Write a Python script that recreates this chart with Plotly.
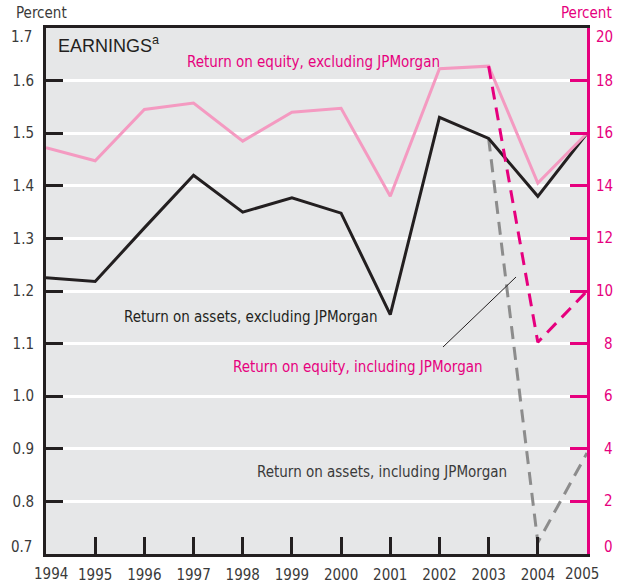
import plotly.graph_objects as go

years = list(range(1994, 2006))
roa_excl = [1.225, 1.218, 1.32, 1.42, 1.35, 1.377, 1.348, 1.155, 1.53, 1.49, 1.38, 1.50]
roe_excl = [15.45, 14.95, 16.9, 17.15, 15.7, 16.8, 16.95, 13.6, 18.45, 18.55, 14.1, 16.0]
incl_years = [2003, 2004, 2005]
roa_incl = [1.49, 0.722, 0.892]
roe_incl = [18.55, 8.05, 10.0]

left_ticks = [0.7, 0.8, 0.9, 1.0, 1.1, 1.2, 1.3, 1.4, 1.5, 1.6, 1.7]
right_ticks = [0, 2, 4, 6, 8, 10, 12, 14, 16, 18, 20]

FONT = "DejaVu Sans Condensed, Liberation Sans Narrow, Liberation Sans, sans-serif"
DARK = "#231F20"
TXT = "#3A3A3A"
MAGENTA = "#E6007E"
PINK = "#F49AC1"
GRAY = "#8C8C8C"
BG = "#E6E7E8"

fig = go.Figure()
fig.add_trace(go.Scatter(x=years, y=roe_excl, yaxis="y2", mode="lines",
                         line=dict(color=PINK, width=3), showlegend=False))
fig.add_trace(go.Scatter(x=incl_years, y=roe_incl, yaxis="y2", mode="lines",
                         line=dict(color=MAGENTA, width=3, dash="13px,8px"), showlegend=False))
fig.add_trace(go.Scatter(x=incl_years, y=roa_incl, mode="lines",
                         line=dict(color=GRAY, width=3, dash="13px,8px"), showlegend=False))
fig.add_trace(go.Scatter(x=years, y=roa_excl, mode="lines",
                         line=dict(color=DARK, width=3), showlegend=False))

# end labels nudged inward like the reference: drawn as annotations
x_text = [str(y) for y in years]
x_text_axis = ["" if i in (0, len(years) - 1) else t for i, t in enumerate(x_text)]
l_text = ["%.1f" % v for v in left_ticks]
l_text_axis = ["" if i in (0, len(left_ticks) - 1) else t for i, t in enumerate(l_text)]

fig.update_layout(
    width=626, height=586,
    margin=dict(l=46, r=39, t=28, b=32),
    paper_bgcolor="white", plot_bgcolor=BG,
    font=dict(family=FONT, size=15, color=TXT),
    xaxis=dict(range=[1994, 2005], tickmode="array", tickvals=years,
               ticktext=x_text_axis, ticks="inside", ticklen=17,
               tickwidth=3, tickcolor=DARK, showline=True, linecolor=DARK,
               linewidth=3, mirror=True, showgrid=False, zeroline=False,
               ticklabelstandoff=5, automargin=False,
               tickfont=dict(size=15, color=TXT)),
    yaxis=dict(range=[0.7, 1.7], tickmode="array", tickvals=left_ticks,
               ticktext=l_text_axis,
               ticks="inside", ticklen=17, tickwidth=3, tickcolor=DARK,
               showline=True, linecolor=DARK, linewidth=3, showgrid=True,
               gridcolor="white", gridwidth=3, zeroline=False,
               ticklabelstandoff=6, automargin=False,
               tickfont=dict(size=15, color=TXT)),
    yaxis2=dict(range=[0, 20], tickmode="array", tickvals=right_ticks,
                showticklabels=False, overlaying="y", side="right",
                ticks="inside", ticklen=17, tickwidth=3, tickcolor=MAGENTA,
                showline=True, linecolor=MAGENTA, linewidth=3, showgrid=False,
                zeroline=False, automargin=False),
)

# x end labels
fig.add_annotation(text=x_text[0], x=years[0], xref="x", y=-0.0371, yref="paper",
                   xshift=5, showarrow=False, yanchor="middle",
                   font=dict(size=15, color=TXT))
fig.add_annotation(text=x_text[-1], x=years[-1], xref="x", y=-0.0371, yref="paper",
                   xshift=-5, showarrow=False, yanchor="middle",
                   font=dict(size=15, color=TXT))
# left end labels
fig.add_annotation(text=l_text[-1], x=-0.0222, xref="paper", y=left_ticks[-1], yref="y",
                   yshift=-9, xanchor="right", showarrow=False, yanchor="middle",
                   font=dict(size=15, color=TXT))
fig.add_annotation(text=l_text[0], x=-0.0222, xref="paper", y=left_ticks[0], yref="y",
                   yshift=7, xanchor="right", showarrow=False, yanchor="middle",
                   font=dict(size=15, color=TXT))
# right labels (right-aligned)
for i, v in enumerate(right_ticks):
    ys = -9 if i == len(right_ticks) - 1 else (7 if i == 0 else 0)
    fig.add_annotation(text=str(v), x=1.0518, xref="paper", y=v, yref="y2",
                       yshift=ys, xanchor="right", showarrow=False, yanchor="middle",
                       font=dict(size=15, color=MAGENTA))

ann = [
    dict(text="EARNINGS<sup>a</sup>", x=0.0203, y=0.9677, xanchor="left",
         font=dict(size=18, color=DARK, family="Liberation Sans, Arial, sans-serif")),
    dict(text="Return on equity, excluding JPMorgan", x=0.2588, y=0.9363,
         xanchor="left", font=dict(size=15, color=MAGENTA)),
    dict(text="Return on assets, excluding JPMorgan", x=0.1418, y=0.4511,
         xanchor="left", font=dict(size=15, color=DARK)),
    dict(text="Return on equity, including JPMorgan", x=0.3433, y=0.3555,
         xanchor="left", font=dict(size=15, color=MAGENTA)),
    dict(text="Return on assets, including JPMorgan", x=0.388, y=0.1559,
         xanchor="left", font=dict(size=15, color=TXT)),
    dict(text="Percent", x=-0.0573, y=1.0285, xanchor="left",
         font=dict(size=15, color=TXT)),
    dict(text="Percent", x=1.048, y=1.0285, xanchor="right",
         font=dict(size=15, color=MAGENTA)),
]
for a in ann:
    fig.add_annotation(xref="paper", yref="paper", showarrow=False,
                       yanchor="middle", borderpad=0, **a)

fig.add_shape(type="line", xref="paper", yref="paper",
              x0=0.7338, y0=0.3935, x1=0.8688, y1=0.5266,
              line=dict(color=DARK, width=1))

fig.write_html("out.html", config={"displayModeBar": False},
               post_script="document.body.style.margin='0';")
